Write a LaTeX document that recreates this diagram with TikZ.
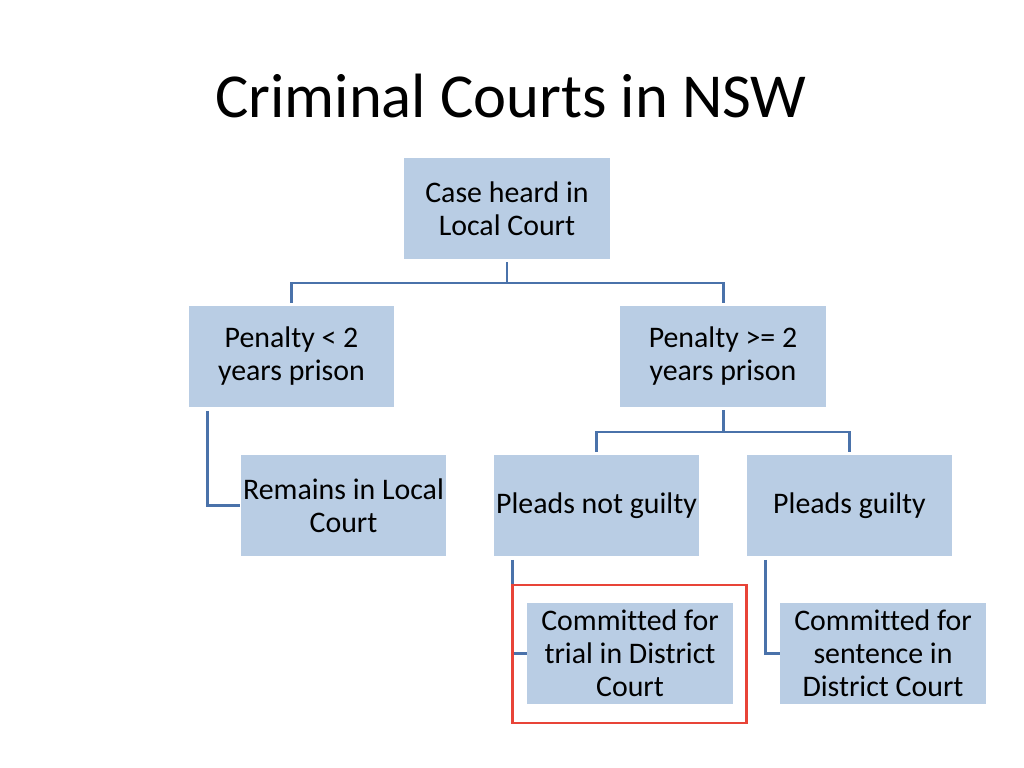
\documentclass[tikz,border=0pt]{standalone}
\usepackage{fontspec}
\setmainfont{Carlito}[Ligatures=NoCommon]
\usetikzlibrary{positioning}
\definecolor{boxblue}{RGB}{185,205,228}
\definecolor{lineblue}{RGB}{74,114,170}
\definecolor{markred}{RGB}{232,68,56}

\begin{document}
\begin{tikzpicture}[x=0.703125pt, y=-0.703125pt,
		main/.style={fill=boxblue, minimum width=144.8pt, minimum height=71pt, inner sep=0pt, align=center, font=\fontsize{21}{23.2}\selectfont},
		link/.style={draw=lineblue, line width=2.1pt, shorten <=2pt}]
		\useasboundingbox (0,0) rectangle (1024,768);

		\node[anchor=base, font=\fontsize{44}{50}\selectfont] (title) at (511,118) {Criminal Courts in NSW};

		\node[main] (case) at (507,208.5) {Case heard in\\Local Court};
		\node[main] (less) at (291.5,356.5) {Penalty < 2\\years prison};
		\node[main] (more) at (723,356.5) {Penalty >= 2\\years prison};
		\node[main] (remains) at (343.5,505.5) {Remains in Local\\Court};
		\node[main] (notguilty) at (596.5,505.5) {Pleads not guilty};
		\node[main] (guilty) at (849.5,505.5) {Pleads guilty};
		\node[main] (trial) at (630,653.5) {Committed for\\trial in District\\Court};
		\node[main] (sentence) at (883,653.5) {Committed for\\sentence in\\District Court};

		\coordinate (j1) at (507,283);
		\coordinate (j2) at (723,432);

		\draw[link] (case.south) -- (j1);
		\draw[link, shorten >=2pt] (less.north) |- (j1) -| (more.north);
		\draw[link] (more.south) -- (j2);
		\draw[link, shorten >=2pt] (notguilty.north) |- (j2) -| (guilty.north);
		\draw[link, shorten <=2.5pt] ([xshift=13.4pt]less.south west) |- (remains.west);
		\draw[link, shorten <=2.5pt] ([xshift=13.4pt]notguilty.south west) |- (trial.west);
		\draw[link, shorten <=2.5pt] ([xshift=13.4pt]guilty.south west) |- (sentence.west);

		\draw[draw=markred, line width=2.1pt] (512,585) rectangle (746,723);
	\end{tikzpicture}
\end{document}
